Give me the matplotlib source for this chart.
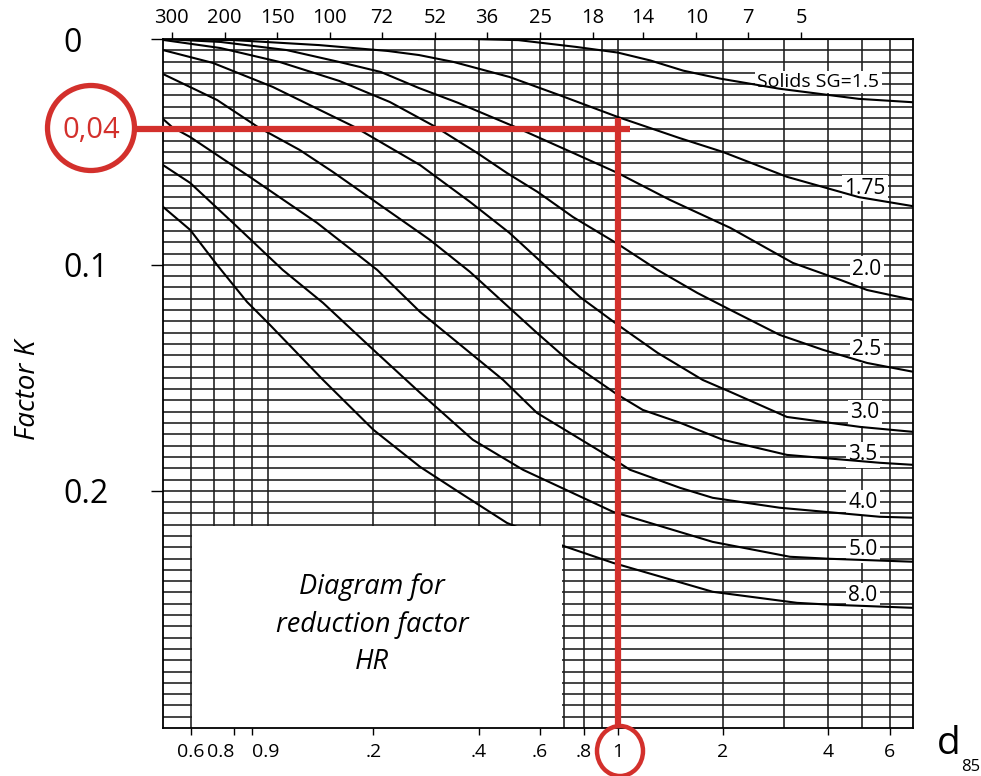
import matplotlib.pyplot as plt
import numpy as np
from matplotlib.patches import Ellipse, Rectangle
from matplotlib.ticker import NullLocator, NullFormatter

plt.rcParams["font.family"] = ["Open Sans", "DejaVu Sans"]

RED = "#d3302c"

# d85 [mm] along the bottom, labels as printed
d85_ticks = [0.06, 0.08, 0.09, 0.2, 0.4, 0.6, 0.8, 1, 2, 4, 6]
d85_labels = ["0.6", "0.8", "0.9", ".2", ".4", ".6", ".8", "1", "2", "4", "6"]

# mesh numbers along the top and their opening in mm
mesh_labels = ["300", "200", "150", "100", "72", "52", "36", "25", "18", "14", "10", "7", "5"]
mesh_mm = [0.053, 0.075, 0.106, 0.15, 0.211, 0.3, 0.422, 0.6, 0.85, 1.18, 1.68, 2.36, 3.35]

k_ticks = [0, 0.1, 0.2]
k_labels = ["0", "0.1", "0.2"]

# read example
d_read = 1.0
k_read = 0.04

# curves: d85 [mm] -> factor K, one per solids SG
sg_names = ["Solids SG=1.5", "1.75", "2.0", "2.5", "3.0", "3.5", "4.0", "5.0", "8.0"]

d_15 = [0.27, 0.38, 0.52, 0.76, 1.0, 1.24, 1.54, 1.96, 2.9, 4.9, 7.0]
k_15 = [0.0, 0.0, 0.0005, 0.0035, 0.006, 0.0095, 0.014, 0.0175, 0.022, 0.0265, 0.028]

d_175 = [0.05, 0.08, 0.14, 0.22, 0.27, 0.34, 0.49, 0.68, 1.0, 1.5, 2.0, 3.05, 4.9, 7.0]
k_175 = [0.0, 0.0005, 0.0027, 0.0053, 0.0071, 0.0102, 0.0168, 0.0248, 0.0345, 0.0438, 0.050, 0.061, 0.070, 0.074]

d_20 = [0.05, 0.073, 0.113, 0.16, 0.21, 0.27, 0.35, 0.51, 0.745, 1.0, 1.41, 2.1, 3.17, 4.33, 5.17, 7.0]
k_20 = [0.0, 0.0013, 0.0049, 0.0102, 0.0146, 0.0217, 0.0283, 0.039, 0.0504, 0.0593, 0.0712, 0.0836, 0.0991, 0.1066, 0.1111, 0.1155]

d_25 = [0.05, 0.073, 0.108, 0.16, 0.223, 0.302, 0.396, 0.482, 0.59, 0.745, 1.0, 1.3, 1.69, 2.1, 2.91, 3.87, 5.17, 7.0]
k_25 = [0.0004, 0.004, 0.0102, 0.0186, 0.0279, 0.039, 0.0504, 0.0593, 0.0677, 0.0788, 0.0907, 0.1022, 0.1124, 0.1199, 0.131, 0.1376, 0.1434, 0.1473]

d_30 = [0.05, 0.0695, 0.103, 0.177, 0.272, 0.378, 0.49, 0.653, 0.78, 1.0, 1.3, 1.75, 2.1, 3.05, 4.93, 7.0]
k_30 = [0.0049, 0.0106, 0.0212, 0.039, 0.0558, 0.0721, 0.0858, 0.1035, 0.1142, 0.1265, 0.1389, 0.1509, 0.1562, 0.1673, 0.1717, 0.1739]

d_35 = [0.05, 0.0714, 0.0935, 0.123, 0.153, 0.209, 0.29, 0.378, 0.5875, 0.73, 1.0, 1.18, 1.51, 2.0, 3.05, 5.63, 7.0]
k_35 = [0.0155, 0.027, 0.039, 0.0491, 0.0588, 0.0735, 0.0889, 0.1031, 0.1301, 0.1429, 0.1575, 0.1642, 0.1699, 0.1774, 0.1841, 0.1876, 0.1885]

d_40 = [0.05, 0.0531, 0.0598, 0.0887, 0.138, 0.205, 0.272, 0.378, 0.47, 0.5875, 1.0, 1.085, 1.51, 1.87, 2.91, 5.63, 7.0]
k_40 = [0.0354, 0.039, 0.0434, 0.0611, 0.0814, 0.1022, 0.1208, 0.1389, 0.1509, 0.1655, 0.1872, 0.1907, 0.1987, 0.2031, 0.2075, 0.2115, 0.2119]

d_50 = [0.05, 0.0598, 0.0793, 0.11, 0.1435, 0.2, 0.272, 0.385, 0.536, 0.97, 1.87, 3.11, 4.05, 7.0]
k_50 = [0.0558, 0.0637, 0.0814, 0.1022, 0.1168, 0.1376, 0.1566, 0.1774, 0.1907, 0.2093, 0.2226, 0.2292, 0.2301, 0.2314]

d_80 = [0.05, 0.0598, 0.0714, 0.087, 0.0992, 0.1435, 0.2, 0.272, 0.354, 0.482, 0.684, 0.97, 1.87, 3.26, 4.05, 7.0]
k_80 = [0.0743, 0.0845, 0.1, 0.1164, 0.1252, 0.1509, 0.173, 0.1894, 0.2009, 0.2142, 0.2239, 0.2319, 0.2447, 0.2496, 0.2504, 0.2518]

curves = [(d_15, k_15), (d_175, k_175), (d_20, k_20), (d_25, k_25), (d_30, k_30),
          (d_35, k_35), (d_40, k_40), (d_50, k_50), (d_80, k_80)]

# where each curve name sits (d85, K)
label_at = [(3.75, 0.019), (5.1, 0.066), (5.17, 0.102), (5.17, 0.1376), (5.1, 0.1655),
            (5.03, 0.1841), (5.03, 0.2053), (5.03, 0.2261), (5.03, 0.2465)]

fig = plt.figure(figsize=(9.81, 7.76), dpi=100)
ax = fig.add_axes([163 / 981, 1 - 728 / 776, 750 / 981, 689 / 776])
ax.set_xscale("log")
ax.set_xlim(0.05, 7.0)
ax.set_ylim(0.305, 0.0)

# chart paper grid (vertical lines at every log step, horizontal every 0.005)
grid_x = [m * 10.0 ** e for e in (-2, -1, 0) for m in range(1, 10)]
grid_x = [g for g in grid_x if 0.055 < g < 6.5]
for g in grid_x:
    ax.axvline(g, color="#1c1c1c", lw=1.15, zorder=1)
for g in np.arange(0.005, 0.301, 0.005):
    ax.axhline(g, color="#1c1c1c", lw=1.15, zorder=1)

ax.xaxis.set_minor_locator(NullLocator())
ax.xaxis.set_minor_formatter(NullFormatter())
ax.set_xticks(d85_ticks, labels=d85_labels)
ax.tick_params(axis="x", which="major", direction="out", length=5, width=1, pad=6, labelsize=14)
xl = ax.get_xticklabels()
xl[1].set_horizontalalignment("right")
xl[2].set_horizontalalignment("left")

ax.set_yticks(k_ticks, labels=k_labels)
ax.tick_params(axis="y", which="major", direction="out", length=9, width=1, pad=63, labelsize=23)
for t in ax.get_yticklabels():
    t.set_horizontalalignment("left")

for sp in ax.spines.values():
    sp.set_linewidth(1.3)
    sp.set_zorder(7)

top = ax.secondary_xaxis("top")
top.set_xticks(mesh_mm, labels=mesh_labels)
top.xaxis.set_minor_locator(NullLocator())
top.xaxis.set_minor_formatter(NullFormatter())
top.tick_params(direction="out", length=5, width=1, pad=3, labelsize=14.5)

for (d, k) in curves:
    ax.plot(d, k, color="black", lw=1.5, zorder=4)

for name, (lx, ly) in zip(sg_names, label_at):
    ax.text(lx, ly, name, ha="center", va="center", fontsize=15 if name != sg_names[0] else 14,
            zorder=3, bbox=dict(boxstyle="square,pad=0.12", fc="white", ec="none"))

# white panel with the title
ax.add_patch(Rectangle((0.0605, 0.2155), 0.695 - 0.0605, 0.305 - 0.2155,
                       fc="white", ec="none", zorder=5))
ax.text(0.279, 0.15, "Diagram for\nreduction factor\nHR", transform=ax.transAxes,
        ha="center", va="center", fontsize=19.5, style="italic", linespacing=1.45, zorder=6)

# red reading lines
ax.plot([0.0416, 1.085], [k_read, k_read], color=RED, lw=4.5, clip_on=False, zorder=8,
        solid_capstyle="butt")
ax.plot([d_read, d_read], [0.035, 0.3045], color=RED, lw=4.5, clip_on=False, zorder=8,
        solid_capstyle="butt")
fig.patches.append(Ellipse((91 / 981, 1 - 128 / 776), 87 / 981, 85 / 776, transform=fig.transFigure,
                           fill=False, ec=RED, lw=3.8, zorder=8))
fig.patches.append(Ellipse((620 / 981, 1 - 751 / 776), 46 / 981, 50 / 776, transform=fig.transFigure,
                           fill=False, ec=RED, lw=3.2, zorder=8))
fig.text(91 / 981, 1 - 130 / 776, "0,04", color=RED, fontsize=21, ha="center", va="center")

fig.text(28 / 981, 1 - 390 / 776, "Factor K", rotation=90, style="italic", fontsize=20,
         ha="center", va="center")
fig.text(949 / 981, 1 - 744 / 776, "d", fontsize=28, ha="center", va="center")
fig.text(971 / 981, 1 - 767 / 776, "85", fontsize=12, ha="center", va="center")

fig.savefig("out.png", dpi=100)
